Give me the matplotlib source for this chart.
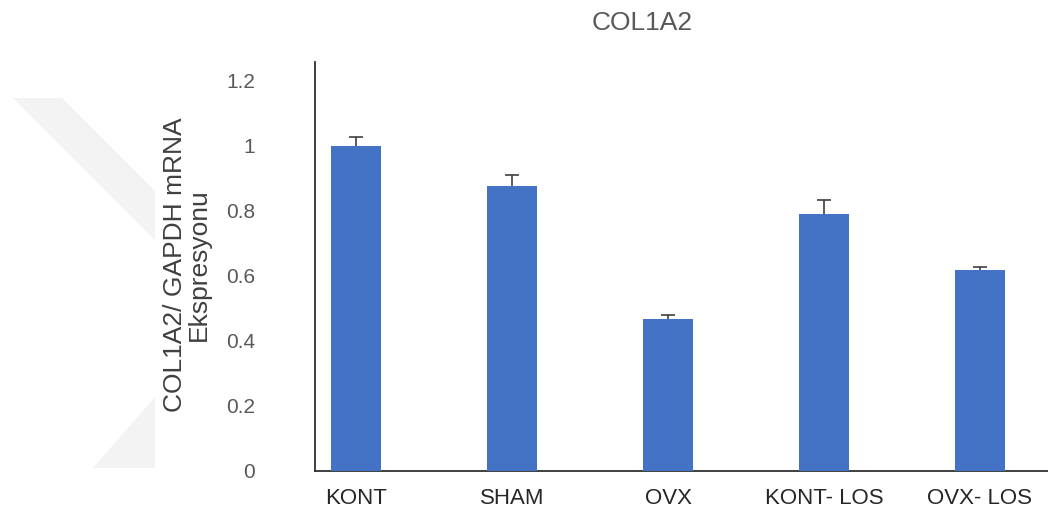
import numpy as np
import matplotlib.pyplot as plt
from matplotlib.patches import Polygon

plt.rcParams['font.family'] = ['Liberation Sans', 'DejaVu Sans']

# Datos
gruplar = ['KONT', 'SHAM', 'OVX', 'KONT- LOS', 'OVX- LOS']
degerler = [1.0, 0.878, 0.467, 0.791, 0.617]
hatalar = [0.026, 0.033, 0.012, 0.042, 0.010]
y_ticks = [0, 0.2, 0.4, 0.6, 0.8, 1.0, 1.2]
y_tick_labels = ['0', '0.2', '0.4', '0.6', '0.8', '1', '1.2']

W, H = 1048, 516
fig = plt.figure(figsize=(W / 100, H / 100), dpi=100)

# Arka plandaki soluk filigran (sol taraf)
def px(points):
    return [(x / W, 1 - y / H) for x, y in points]

fig.add_artist(Polygon(px([(13, 98), (62, 98), (155, 191), (155, 240)]),
                       closed=True, facecolor='#f3f3f3', edgecolor='none',
                       transform=fig.transFigure, zorder=0))
fig.add_artist(Polygon(px([(155, 397), (155, 468), (93, 468)]),
                       closed=True, facecolor='#f3f3f3', edgecolor='none',
                       transform=fig.transFigure, zorder=0))

ax = fig.add_axes([315 / W, 45 / H, 1 - 315 / W, (471 - 62) / H])
ax.patch.set_alpha(0)

x = np.arange(len(gruplar))
# hata çubuğu barın arkasında: alt yarısı görünmez
ax.errorbar(x, degerler, yerr=hatalar, fmt='none',
            ecolor='#404040', elinewidth=1.2, capsize=5, capthick=1.2, zorder=2)
ax.bar(x, degerler, width=0.32, color='#4472C4', zorder=3)

ax.set_xlim(-0.263, 4.436)
ax.set_ylim(0, 1.258)
ax.set_yticks(y_ticks)
ax.set_yticklabels(y_tick_labels)
ax.set_xticks(x)
ax.set_xticklabels(gruplar)

ax.tick_params(axis='y', length=0, pad=43, labelsize=15, labelcolor='#595959')
ax.tick_params(axis='x', length=0, pad=12, labelsize=16, labelcolor='#262626')

for s in ['top', 'right']:
    ax.spines[s].set_visible(False)
for s in ['left', 'bottom']:
    ax.spines[s].set_color('#303030')
    ax.spines[s].set_linewidth(1.3)

fig.text(642 / W, 1 - 23 / H, 'COL1A2', ha='center', va='center',
         fontsize=19, color='#595959')
fig.text(187 / W, 1 - 265 / H, 'COL1A2/ GAPDH mRNA\nEkspresyonu', ha='center',
         va='center', rotation=90, fontsize=19, color='#404040',
         linespacing=0.95)

fig.savefig('out.png', dpi=100)
